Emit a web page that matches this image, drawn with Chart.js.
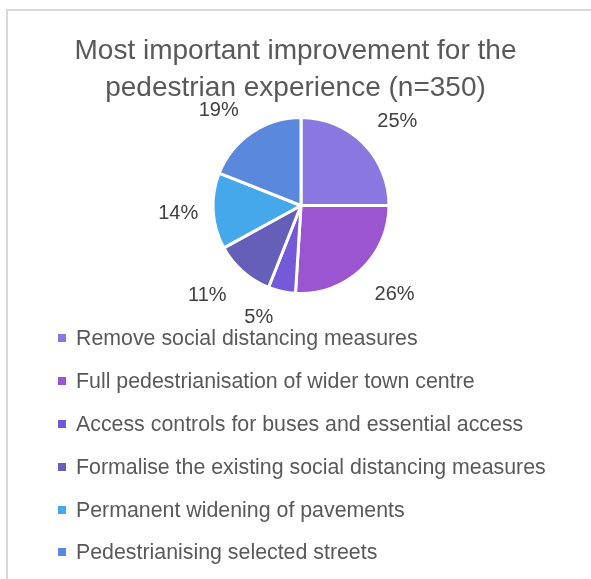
<!DOCTYPE html>
<html>
<head>
<meta charset="utf-8">
<script src="https://cdn.jsdelivr.net/npm/chart.js@4/dist/chart.umd.min.js"></script>
<style>
  html,body{margin:0;padding:0;background:#fff;}
  #wrap{position:relative;width:591px;height:579px;overflow:hidden;}
  #frame{position:absolute;left:6px;top:9px;width:600px;height:600px;border-left:2px solid #d9d9d9;border-top:2px solid #d9d9d9;}
  canvas{position:absolute;left:0;top:0;}
  .t{position:absolute;white-space:nowrap;color:#595959;font-family:"Liberation Sans","DejaVu Sans",sans-serif;}
  #title div{position:absolute;left:0;width:591px;text-align:center;}
  .leg{position:absolute;left:58px;height:20px;display:flex;align-items:center;}
  .leg span.sq{display:inline-block;width:8px;height:8px;margin-right:10px;}
</style>
</head>
<body>
<div id="wrap">
  <div id="frame"></div>
  <canvas id="c" width="591" height="579"></canvas>
  <div id="title" class="t"></div>
  <div id="legend"></div>
</div>
<script>
const titleLines = ["Most important improvement for the", "pedestrian experience (n=350)"];
const categories = [
  "Remove social distancing measures",
  "Full pedestrianisation of wider town centre",
  "Access controls for buses and essential access",
  "Formalise the existing social distancing measures",
  "Permanent widening of pavements",
  "Pedestrianising selected streets"
];
const values = [25, 26, 5, 11, 14, 19];
const colors = ["#8a78e0", "#9b55d0", "#7459d9", "#655fb9", "#45a8ea", "#5a88dc"];
// per-label nudges (px) to mimic best-fit placement of outside labels
const labelNudge = [[8, 4], [8, -2], [-15, -10], [-11, -4], [2, 0], [-12, 8]];

const FONT = '"Liberation Sans","DejaVu Sans",sans-serif';
const mctx = document.createElement('canvas').getContext('2d');
function fitSize(text, width) {
  mctx.font = '100px ' + FONT;
  return 100 * width / mctx.measureText(text).width;
}

// Title
const titleEl = document.getElementById('title');
const tSize = fitSize(titleLines[0], 442);
const titleY = [50, 87];
titleLines.forEach((l, i) => {
  const d = document.createElement('div');
  d.className = 't';
  d.textContent = l;
  d.style.fontSize = tSize + 'px';
  d.style.lineHeight = '30px';
  d.style.top = (titleY[i] - 15) + 'px';
  titleEl.appendChild(d);
});

// Legend
const legEl = document.getElementById('legend');
const lSize = fitSize(categories[3], 470);
const legY = [338, 381, 424, 467, 510, 552];
categories.forEach((c, i) => {
  const row = document.createElement('div');
  row.className = 'leg t';
  row.style.top = (legY[i] - 10) + 'px';
  row.style.fontSize = lSize + 'px';
  const sq = document.createElement('span');
  sq.className = 'sq';
  sq.style.background = colors[i];
  row.appendChild(sq);
  row.appendChild(document.createTextNode(c));
  legEl.appendChild(row);
});

const labelPlugin = {
  id: 'outLabels',
  afterDatasetsDraw(chart) {
    const ctx = chart.ctx;
    const meta = chart.getDatasetMeta(0);
    const total = values.reduce((a, b) => a + b, 0);
    ctx.save();
    ctx.fillStyle = '#404040';
    ctx.font = '20px ' + FONT;
    ctx.textAlign = 'center';
    ctx.textBaseline = 'middle';
    meta.data.forEach((arc, i) => {
      const p = arc.getProps(['x', 'y', 'startAngle', 'endAngle', 'outerRadius'], true);
      const a = (p.startAngle + p.endAngle) / 2;
      const r = p.outerRadius + 37;
      const x = p.x + Math.cos(a) * r + labelNudge[i][0];
      const y = p.y + Math.sin(a) * r + labelNudge[i][1];
      ctx.fillText(Math.round(values[i] / total * 100) + '%', x, y);
    });
    ctx.restore();
  }
};

new Chart(document.getElementById('c'), {
  type: 'pie',
  data: {
    labels: categories,
    datasets: [{
      data: values,
      backgroundColor: colors,
      borderColor: '#ffffff',
      borderWidth: 3
    }]
  },
  options: {
    responsive: false,
    animation: false,
    layout: { padding: { top: 116, bottom: 284, left: 150, right: 139 } },
    plugins: {
      legend: { display: false },
      title: { display: false },
      tooltip: { enabled: false }
    }
  },
  plugins: [labelPlugin]
});
</script>
</body>
</html>
